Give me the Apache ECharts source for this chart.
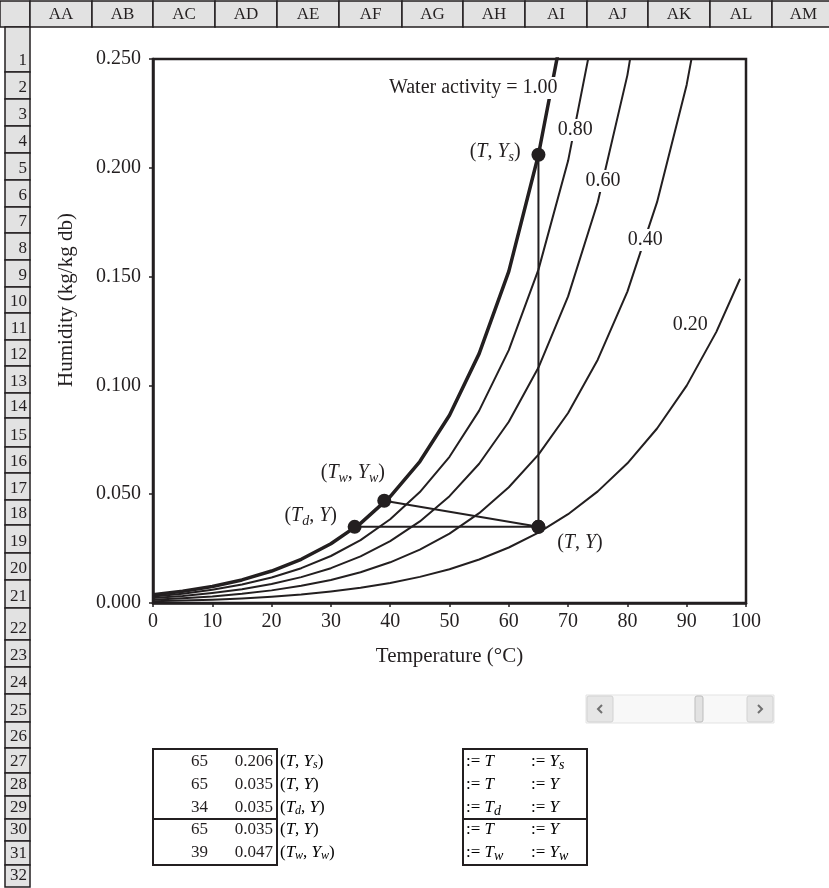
<!DOCTYPE html>
<html><head><meta charset="utf-8">
<script src="https://cdn.jsdelivr.net/npm/echarts@6/dist/echarts.min.js"></script>
<style>html,body{margin:0;padding:0;background:#fff}#c{width:829px;height:888px}</style>
</head><body><div id="c"></div>
<script>
// ---- data ----
const temps = [0,5,10,15,20,25,30,35,40,45,50,55,60,65,70,75,80,85,90,95,100];
const temps020 = [0,5,10,15,20,25,30,35,40,45,50,55,60,65,70,75,80,85,90,95,99];
const aw100 = [0.0038,0.0054,0.0076,0.0106,0.0147,0.0201,0.0272,0.0366,0.0489,0.0650,0.0863,0.1146,0.1524,0.2060,0.2766];
const aw080 = [0.0030,0.0043,0.0061,0.0085,0.0117,0.0160,0.0216,0.0289,0.0385,0.0510,0.0672,0.0884,0.1162,0.1532,0.2032,0.2725];
const aw060 = [0.0023,0.0032,0.0046,0.0063,0.0087,0.0119,0.0160,0.0214,0.0284,0.0375,0.0491,0.0640,0.0833,0.1082,0.1409,0.1842,0.2426,0.3243];
const aw040 = [0.0015,0.0022,0.0030,0.0042,0.0058,0.0079,0.0106,0.0141,0.0187,0.0245,0.0319,0.0413,0.0532,0.0682,0.0873,0.1118,0.1431,0.1842,0.2382,0.3116];
const aw020 = [0.0008,0.0011,0.0015,0.0021,0.0029,0.0039,0.0053,0.0070,0.0092,0.0120,0.0155,0.0200,0.0255,0.0323,0.0408,0.0513,0.0642,0.0802,0.0999,0.1246,0.1490];
const curveNames = ['Water activity = 1.00','0.80','0.60','0.40','0.20'];
const tableT = [65,65,34,65,39];
const tableY = [0.206,0.035,0.035,0.035,0.047];
const tableLbl = ['(T, Y_s)','(T, Y)','(T_d, Y)','(T, Y)','(T_w, Y_w)'];
const assignA = [':= T',':= T',':= T_d',':= T',':= T_w'];
const assignB = [':= Y_s',':= Y',':= Y',':= Y',':= Y_w'];
const colNames = ['AA','AB','AC','AD','AE','AF','AG','AH','AI','AJ','AK','AL','AM'];
const xMin = 0, xMax = 100, xStep = 10;
const yMin = 0, yMax = 0.25, yStep = 0.05;

// ---- helpers ----
const F = '"Liberation Serif","DejaVu Serif",serif';
const INK = '#231f20';
function zip(xs, ys){ return ys.map((y,i)=>[xs[i], y]); }
function rich(s){
  let out = '', run = '';
  const flush = ()=>{ if(run){ out += '{r|'+run+'}'; run=''; } };
  for(let i=0;i<s.length;i++){
    const c = s[i];
    if(c==='_'){ flush(); out += '{s|'+s[++i]+'}'; }
    else if(c==='T'||c==='Y'){ flush(); out += '{i|'+c+'}'; }
    else run += c;
  }
  flush();
  return out;
}
function richStyles(size, sub, drop){
  const lh = size + 6;
  return {
    r:{fontFamily:F,fontSize:size,color:INK,lineHeight:lh},
    i:{fontFamily:F,fontSize:size,color:INK,fontStyle:'italic',lineHeight:lh},
    s:{fontFamily:F,fontSize:sub,color:INK,fontStyle:'italic',lineHeight:lh-2*drop,padding:[2*drop,0,0,0]}
  };
}

// ---- spreadsheet frame (decoration) ----
const colEdges = [30,92,153,215,277,339,402,463,525,587,648,710,772,835];
const rowTops = [27,72,99,126,153,180,207,233,260,287,313,340,366,393,418,447,473,500,525,553,580,608,640,667,694,722,748,773,796,819,841,865,887];
const HEAD = '#e2e2e2';
const graphics = [];
graphics.push({type:'rect',shape:{x:0,y:1,width:30,height:26},style:{fill:HEAD,stroke:INK,lineWidth:1.5}});
colNames.forEach((n,i)=>{
  const x0 = colEdges[i], x1 = colEdges[i+1];
  graphics.push({type:'rect',shape:{x:x0,y:1,width:x1-x0,height:26},style:{fill:HEAD,stroke:INK,lineWidth:1.5}});
  graphics.push({type:'text',x:(x0+x1)/2,y:15,style:{text:n,fill:INK,font:'17px '+F,textAlign:'center',textVerticalAlign:'middle'}});
});
for(let r=0;r<rowTops.length-1;r++){
  const y0 = rowTops[r], y1 = rowTops[r+1];
  graphics.push({type:'rect',shape:{x:5,y:y0,width:25,height:y1-y0},style:{fill:HEAD,stroke:INK,lineWidth:1.5}});
  graphics.push({type:'text',x:27,y:y1-11,style:{text:String(r+1),fill:INK,font:'17px '+F,textAlign:'right',textVerticalAlign:'middle'}});
}
// tables
const tRows = [762,785,808,830,853];
[[153,277],[463,587]].forEach(([a,b])=>{
  graphics.push({type:'rect',shape:{x:a,y:749,width:b-a,height:116},style:{fill:'none',stroke:INK,lineWidth:2}});
  graphics.push({type:'line',shape:{x1:a,y1:819,x2:b,y2:819},style:{stroke:INK,lineWidth:2}});
});
const tRich = richStyles(17,12,3);
const aRich = richStyles(17,14,3);
tableT.forEach((t,i)=>{
  const y = tRows[i];
  graphics.push({type:'text',x:208,y:y,style:{text:String(t),fill:INK,font:'17px '+F,textAlign:'right',textVerticalAlign:'middle'}});
  graphics.push({type:'text',x:273,y:y,style:{text:tableY[i].toFixed(3),fill:INK,font:'17px '+F,textAlign:'right',textVerticalAlign:'middle'}});
  graphics.push({type:'text',x:280,y:y,style:{text:rich(tableLbl[i]),rich:tRich,textAlign:'left',textVerticalAlign:'middle'}});
  graphics.push({type:'text',x:466,y:y,style:{text:rich(assignA[i]),rich:aRich,textAlign:'left',textVerticalAlign:'middle'}});
  graphics.push({type:'text',x:531,y:y,style:{text:rich(assignB[i]),rich:aRich,textAlign:'left',textVerticalAlign:'middle'}});
});
// scrollbar
graphics.push({type:'rect',shape:{x:586,y:695,width:188,height:28},style:{fill:'#f8f8f8',stroke:'#e3e3e3',lineWidth:1}});
[[587,613],[747,773]].forEach(([a,b],k)=>{
  graphics.push({type:'rect',shape:{x:a,y:696,width:b-a,height:26,r:2},style:{fill:'#e6e6e6',stroke:'#d2d2d2',lineWidth:1}});
  const cx=(a+b)/2, cy=709;
  const pts = k===0 ? [[cx+2,cy-4],[cx-2,cy],[cx+2,cy+4]] : [[cx-2,cy-4],[cx+2,cy],[cx-2,cy+4]];
  graphics.push({type:'polyline',shape:{points:pts},style:{stroke:'#707070',lineWidth:2,fill:'none'}});
});
graphics.push({type:'rect',shape:{x:695,y:696,width:8,height:26,r:2},style:{fill:'#e2e2e2',stroke:'#bdbdbd',lineWidth:1}});

// ---- chart ----
const labelBase = {show:true,position:'inside',fontFamily:F,fontSize:20,color:INK};
function curveMark(text, coord){
  return {symbol:'circle',symbolSize:1,itemStyle:{color:'rgba(0,0,0,0)'},
    label:Object.assign({},labelBase,{formatter:()=>text,backgroundColor:'#fff',padding:[1,2]}),
    data:[{coord:coord}]};
}
const curveSets = [[temps,aw100,3.5],[temps,aw080,2],[temps,aw060,2],[temps,aw040,2],[temps020,aw020,2]];
const curveLabelAt = [[54.0,0.2367],[71.2,0.2174],[75.9,0.1939],[83.0,0.1668],[90.6,0.1278]];
const series = curveSets.map((c,i)=>({
  type:'line', name:curveNames[i], data:zip(c[0],c[1]), symbol:'none', clip:true,
  lineStyle:{color:INK,width:c[2],join:'round'}, silent:true,
  markPoint:curveMark(curveNames[i], curveLabelAt[i])
}));
series.push({type:'line',data:zip(tableT.slice(0,3),tableY.slice(0,3)),symbol:'none',lineStyle:{color:INK,width:2}});
series.push({type:'line',data:zip(tableT.slice(3,5),tableY.slice(3,5)),symbol:'none',lineStyle:{color:INK,width:2}});
const ptRich = richStyles(20,14,5);
const ptLabelAt = [[57.7,0.2073],[72.0,0.0276],[26.6,0.0400],[72.0,0.0276],[33.7,0.0597]];
series.push({type:'scatter',data:zip(tableT,tableY),symbol:'circle',symbolSize:14,itemStyle:{color:INK,opacity:1},z:4,
  markPoint:{symbol:'circle',symbolSize:1,itemStyle:{color:'rgba(0,0,0,0)'},
    data:[0,1,2,4].map(i=>({coord:ptLabelAt[i],
      label:{show:true,position:'inside',formatter:()=>rich(tableLbl[i]),rich:ptRich}}))}
});

const chart = echarts.init(document.getElementById('c'));
chart.setOption({
  animation:false,
  backgroundColor:'#fff',
  graphic:graphics,
  grid:{left:153,right:83,top:59,bottom:285,show:true,borderColor:INK,borderWidth:2.5,backgroundColor:'transparent'},
  xAxis:{type:'value',min:xMin,max:xMax,interval:xStep,
    name:'Temperature (°C)',nameLocation:'middle',nameGap:43,
    nameTextStyle:{fontFamily:F,fontSize:21,color:INK},
    axisLine:{show:true,lineStyle:{color:INK,width:2.5}},
    axisTick:{show:true,length:4,lineStyle:{color:INK,width:1.5}},
    axisLabel:{fontFamily:F,fontSize:20,color:INK,margin:9},
    splitLine:{show:false}},
  yAxis:{type:'value',min:yMin,max:yMax,interval:yStep,
    name:'Humidity (kg/kg db)',nameLocation:'middle',nameGap:76,
    nameTextStyle:{fontFamily:F,fontSize:21,color:INK,padding:[0,0,0,62]},
    axisLine:{show:true,lineStyle:{color:INK,width:2.5}},
    axisTick:{show:true,length:4,lineStyle:{color:INK,width:1.5}},
    axisLabel:{fontFamily:F,fontSize:20,color:INK,margin:12,formatter:v=>v.toFixed(3)},
    splitLine:{show:false}},
  series:series
});
</script></body></html>
